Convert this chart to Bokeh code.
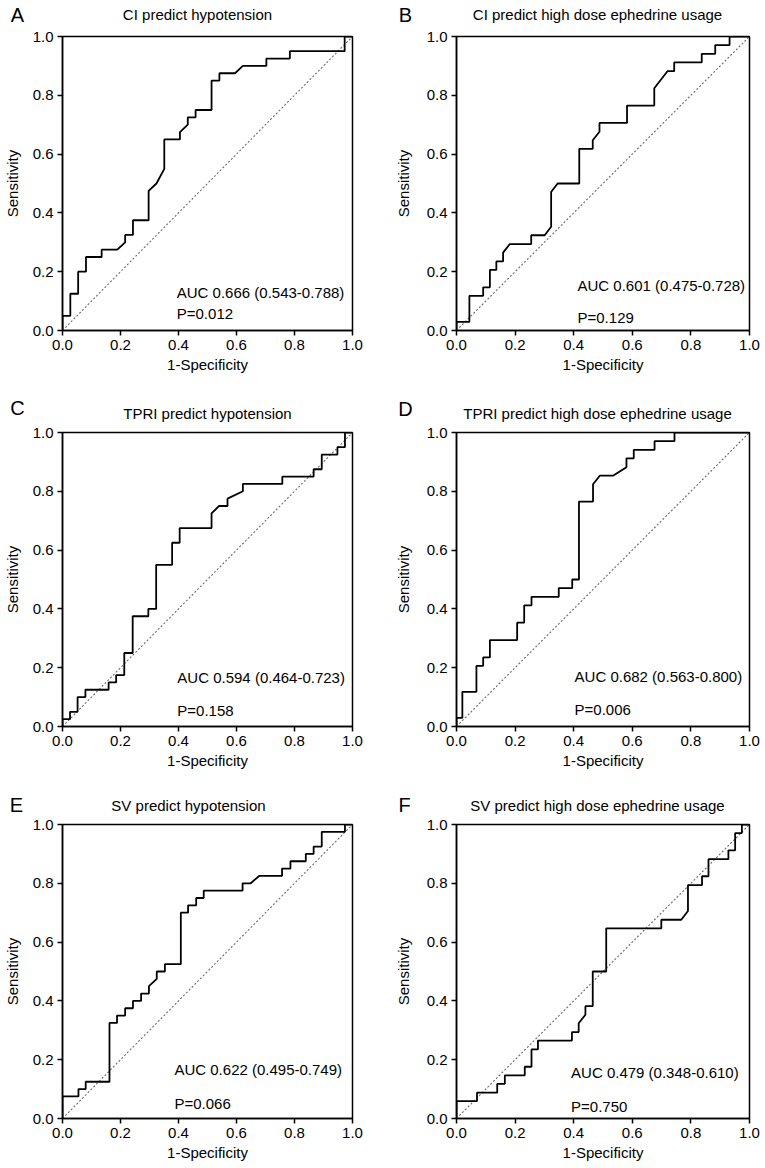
from bokeh.plotting import figure
from bokeh.layouts import column, row
from bokeh.models import Range1d, Label, FixedTicker, PrintfTickFormatter
from bokeh.embed import file_html
from bokeh.resources import INLINE

FONT = "Liberation Sans"

# ---------------- data ----------------
panel_letters = ["A", "B", "C", "D", "E", "F"]
panel_titles = [
    "CI predict hypotension",
    "CI predict high dose ephedrine usage",
    "TPRI predict hypotension",
    "TPRI predict high dose ephedrine usage",
    "SV predict hypotension",
    "SV predict high dose ephedrine usage",
]
auc_texts = [
    "AUC 0.666 (0.543-0.788)",
    "AUC 0.601 (0.475-0.728)",
    "AUC 0.594 (0.464-0.723)",
    "AUC 0.682 (0.563-0.800)",
    "AUC 0.622 (0.495-0.749)",
    "AUC 0.479 (0.348-0.610)",
]
p_texts = ["P=0.012", "P=0.129", "P=0.158", "P=0.006", "P=0.066", "P=0.750"]
ticks = [0.0, 0.2, 0.4, 0.6, 0.8, 1.0]

A_fpr = [0.000, 0.000, 0.027, 0.027, 0.054, 0.054, 0.081, 0.081, 0.135, 0.135, 0.189, 0.216, 0.216,
         0.243, 0.243, 0.297, 0.297, 0.324, 0.351, 0.351, 0.405, 0.405, 0.432, 0.432, 0.459, 0.459,
         0.514, 0.514, 0.541, 0.541, 0.595, 0.622, 0.703, 0.703, 0.784, 0.784, 0.973, 0.973, 1.000]
A_tpr = [0.000, 0.050, 0.050, 0.125, 0.125, 0.200, 0.200, 0.250, 0.250, 0.275, 0.275, 0.300, 0.325,
         0.325, 0.375, 0.375, 0.475, 0.500, 0.550, 0.650, 0.650, 0.675, 0.700, 0.725, 0.725, 0.750,
         0.750, 0.850, 0.850, 0.875, 0.875, 0.900, 0.900, 0.925, 0.925, 0.950, 0.950, 1.000, 1.000]

B_fpr = [0.000, 0.000, 0.044, 0.044, 0.091, 0.091, 0.114, 0.114, 0.136, 0.136, 0.159, 0.159, 0.182,
         0.255, 0.255, 0.301, 0.323, 0.323, 0.345, 0.419, 0.419, 0.465, 0.465, 0.488, 0.488, 0.582,
         0.582, 0.675, 0.675, 0.720, 0.743, 0.743, 0.837, 0.837, 0.883, 0.883, 0.932, 0.932, 1.000]
B_tpr = [0.000, 0.029, 0.029, 0.118, 0.118, 0.147, 0.147, 0.206, 0.206, 0.235, 0.235, 0.265, 0.294,
         0.294, 0.324, 0.324, 0.353, 0.471, 0.500, 0.500, 0.618, 0.618, 0.647, 0.676, 0.706, 0.706,
         0.765, 0.765, 0.824, 0.882, 0.882, 0.912, 0.912, 0.941, 0.941, 0.971, 0.971, 1.000, 1.000]

C_fpr = [0.000, 0.000, 0.026, 0.026, 0.052, 0.052, 0.079, 0.079, 0.159, 0.159, 0.185, 0.185, 0.213,
         0.213, 0.242, 0.242, 0.296, 0.296, 0.323, 0.323, 0.378, 0.378, 0.404, 0.404, 0.514, 0.514,
         0.540, 0.569, 0.569, 0.622, 0.622, 0.758, 0.758, 0.866, 0.866, 0.894, 0.894, 0.948, 0.948,
         0.974, 0.974, 1.000]
C_tpr = [0.000, 0.025, 0.025, 0.050, 0.050, 0.100, 0.100, 0.125, 0.125, 0.150, 0.150, 0.175, 0.175,
         0.250, 0.250, 0.375, 0.375, 0.400, 0.400, 0.550, 0.550, 0.625, 0.625, 0.675, 0.675, 0.725,
         0.750, 0.750, 0.775, 0.800, 0.825, 0.825, 0.850, 0.850, 0.875, 0.875, 0.925, 0.925, 0.950,
         0.950, 1.000, 1.000]

D_fpr = [0.000, 0.000, 0.020, 0.020, 0.068, 0.068, 0.091, 0.091, 0.114, 0.114, 0.207, 0.207, 0.231,
         0.231, 0.256, 0.256, 0.349, 0.349, 0.395, 0.395, 0.418, 0.418, 0.466, 0.466, 0.489, 0.534,
         0.580, 0.580, 0.605, 0.605, 0.676, 0.676, 0.744, 0.744, 1.000]
D_tpr = [0.000, 0.029, 0.029, 0.118, 0.118, 0.206, 0.206, 0.235, 0.235, 0.294, 0.294, 0.353, 0.353,
         0.412, 0.412, 0.441, 0.441, 0.471, 0.471, 0.500, 0.500, 0.765, 0.765, 0.824, 0.853, 0.853,
         0.882, 0.912, 0.912, 0.941, 0.941, 0.971, 0.971, 1.000, 1.000]

E_fpr = [0.000, 0.000, 0.055, 0.055, 0.080, 0.080, 0.162, 0.162, 0.188, 0.188, 0.216, 0.216, 0.243,
         0.243, 0.271, 0.271, 0.298, 0.298, 0.325, 0.325, 0.353, 0.353, 0.408, 0.408, 0.433, 0.433,
         0.461, 0.461, 0.487, 0.487, 0.621, 0.621, 0.649, 0.678, 0.757, 0.757, 0.786, 0.786, 0.839,
         0.839, 0.866, 0.866, 0.894, 0.894, 0.974, 0.974, 1.000]
E_tpr = [0.000, 0.075, 0.075, 0.100, 0.100, 0.125, 0.125, 0.325, 0.325, 0.350, 0.350, 0.375, 0.375,
         0.400, 0.400, 0.425, 0.425, 0.450, 0.475, 0.500, 0.500, 0.525, 0.525, 0.700, 0.700, 0.725,
         0.725, 0.750, 0.750, 0.775, 0.775, 0.800, 0.800, 0.825, 0.825, 0.850, 0.850, 0.875, 0.875,
         0.900, 0.900, 0.925, 0.925, 0.975, 0.975, 1.000, 1.000]

F_fpr = [0.000, 0.000, 0.070, 0.070, 0.139, 0.139, 0.165, 0.165, 0.233, 0.233, 0.256, 0.256, 0.278,
         0.278, 0.394, 0.394, 0.417, 0.417, 0.440, 0.440, 0.465, 0.465, 0.511, 0.511, 0.699, 0.699,
         0.767, 0.790, 0.790, 0.838, 0.838, 0.860, 0.860, 0.928, 0.928, 0.951, 0.951, 0.974, 0.974,
         1.000]
F_tpr = [0.000, 0.059, 0.059, 0.088, 0.088, 0.118, 0.118, 0.147, 0.147, 0.176, 0.176, 0.235, 0.235,
         0.265, 0.265, 0.294, 0.294, 0.324, 0.353, 0.382, 0.382, 0.500, 0.500, 0.647, 0.647, 0.676,
         0.676, 0.706, 0.794, 0.794, 0.824, 0.824, 0.882, 0.882, 0.912, 0.912, 0.971, 0.971, 1.000,
         1.000]

curves = [(A_fpr, A_tpr), (B_fpr, B_tpr), (C_fpr, C_tpr), (D_fpr, D_tpr), (E_fpr, E_tpr), (F_fpr, F_tpr)]

# ---------------- layout / style ----------------
# (width, header height, plot height, min_border left, right, top, bottom)
geom = [
    (388, 26, 362, 60, 36, 10, 58), (377, 26, 362, 68, 16, 10, 58),
    (388, 34, 356, 60, 36, 10, 52), (377, 34, 356, 68, 16, 10, 52),
    (388, 37, 351, 60, 36, 9, 48), (377, 37, 351, 68, 16, 9, 48),
]
# header text positions in header pixels (x from left, y from bottom)
letter_xy = [(17, 12), (17, 12), (17, 15), (17, 14), (16, 11), (16, 11)]
title_xy = [(197, 12), (209, 12), (207, 9), (209, 9), (188, 10), (209, 10)]
ylab_standoff = [9, 12, 9, 12, 9, 12]
auc_pos = [(0.394, 0.129, 0.058), (0.413, 0.153, 0.044), (0.396, 0.167, 0.054),
           (0.403, 0.170, 0.058), (0.386, 0.167, 0.051), (0.391, 0.156, 0.041)]


def make_header(i):
    w, hh = geom[i][0], geom[i][1]
    hdr = figure(width=w, height=hh, x_range=Range1d(0, w), y_range=Range1d(0, hh),
                 output_backend="svg", toolbar_location=None, min_border=0,
                 x_axis_type=None, y_axis_type=None)
    hdr.outline_line_color = None
    hdr.background_fill_color = "white"
    hdr.border_fill_color = "white"
    lx, ly = letter_xy[i]
    hdr.add_layout(Label(x=lx, y=ly, text=panel_letters[i], text_font=FONT, text_font_size="20px",
                         text_align="center", text_baseline="middle", text_color="black"))
    tx, ty = title_xy[i]
    hdr.add_layout(Label(x=tx, y=ty, text=panel_titles[i], text_font=FONT, text_font_size="15px",
                         text_align="center", text_baseline="middle", text_color="black"))
    return hdr


def make_panel(i):
    w, hh, h, ml, mr, mt, mb = geom[i]
    p = figure(width=w, height=h, x_range=Range1d(0, 1), y_range=Range1d(0, 1),
               output_backend="svg", toolbar_location=None,
               min_border_left=ml, min_border_right=mr, min_border_top=mt, min_border_bottom=mb)
    p.grid.visible = False
    p.outline_line_color = "black"
    p.outline_line_width = 1.5
    p.background_fill_color = "white"
    p.border_fill_color = "white"
    for ax in (p.xaxis[0], p.yaxis[0]):
        ax.ticker = FixedTicker(ticks=ticks)
        ax.formatter = PrintfTickFormatter(format="%.1f")
        ax.major_label_text_font = FONT
        ax.major_label_text_font_size = "15px"
        ax.major_label_text_color = "black"
        ax.axis_label_text_font = FONT
        ax.axis_label_text_font_size = "15px"
        ax.axis_label_text_font_style = "normal"
        ax.axis_label_text_color = "black"
        ax.axis_line_color = "black"
        ax.axis_line_width = 1.5
        ax.major_tick_line_color = "black"
        ax.major_tick_line_width = 1.5
        ax.major_tick_in = 0
        ax.major_tick_out = 5
        ax.minor_tick_line_color = None
        ax.major_label_standoff = 4
    p.xaxis[0].axis_label_standoff = 3
    p.yaxis[0].axis_label_standoff = ylab_standoff[i]
    p.xaxis[0].axis_label = "1-Specificity"
    p.yaxis[0].axis_label = "Sensitivity"

    p.line([0, 1], [0, 1], line_color="#6e6e6e", line_width=1.1, line_dash="2 2")
    fpr, tpr = curves[i]
    p.line(fpr, tpr, line_color="black", line_width=1.8)

    ax_, ay_, py_ = auc_pos[i]
    p.add_layout(Label(x=ax_, y=ay_, text=auc_texts[i], text_font=FONT, text_font_size="15px",
                       text_align="left", text_baseline="middle", text_color="black"))
    p.add_layout(Label(x=ax_, y=py_, text=p_texts[i], text_font=FONT, text_font_size="15px",
                       text_align="left", text_baseline="middle", text_color="black"))
    return p


headers = [make_header(i) for i in range(6)]
plots = [make_panel(i) for i in range(6)]
layout = column(
    row(headers[0], headers[1]), row(plots[0], plots[1]),
    row(headers[2], headers[3]), row(plots[2], plots[3]),
    row(headers[4], headers[5]), row(plots[4], plots[5]),
)

open("out.html", "w").write(file_html(layout, INLINE))
